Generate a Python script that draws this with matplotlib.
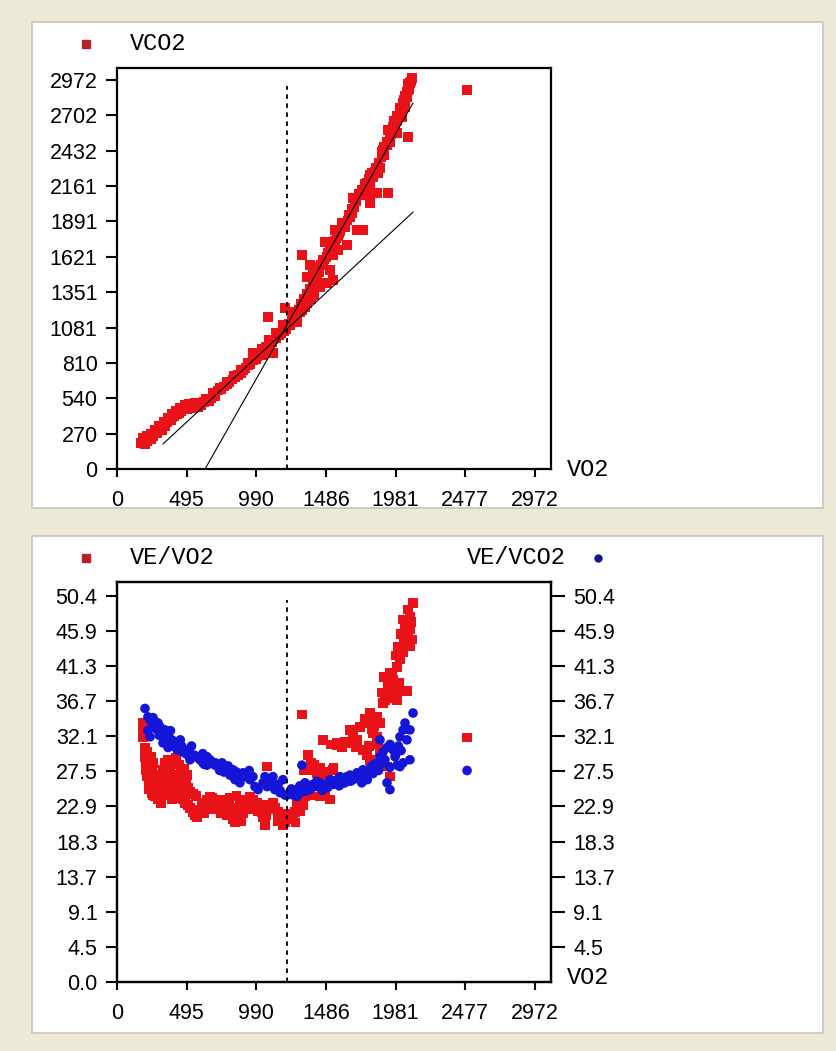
import matplotlib.pyplot as plt
from matplotlib.patches import Rectangle
from matplotlib.lines import Line2D
import numpy as np

# ---- data ----
# top panel: VCO2 against VO2
vo2_top = [170, 185, 200, 200, 215, 230, 240, 250, 260, 275, 285, 300, 310, 320, 335, 345,
           360, 370, 385, 395, 410, 425, 440, 455, 470, 485, 500, 520, 540, 560, 580, 600,
           620, 640, 655, 670, 690, 700, 720, 740, 760, 780, 800, 820, 840, 860, 880, 900,
           915, 930, 950, 970, 990, 1000, 1020, 1040, 1050, 1060, 1080, 1100, 1110, 1130,
           1150, 1170, 1190, 1200,
           180, 210, 240, 270, 300, 330, 360, 390, 420, 450, 480, 510, 550, 590, 630, 680,
           730, 780, 830, 880, 930, 980, 1030, 1080, 1130, 1180,
           967, 1038, 1109, 1074, 1194, 1252, 1280, 1230, 1250, 1209,
           1220, 1240, 1260, 1266, 1280, 1300, 1320, 1337, 1351, 1372, 1351, 1394, 1315,
           1372, 1358, 1380, 1400, 1420, 1443, 1465, 1479, 1493, 1514, 1536, 1536, 1550,
           1571, 1600, 1635, 1657, 1671, 1678, 1706, 1728, 1749, 1728, 1778, 1799, 1849,
           1927, 1778, 1799, 1834, 1799, 1820, 1870, 1856, 1891, 1920, 1941, 1927, 1962,
           1991, 2012, 2034, 2062, 2069, 2083, 2097, 2069, 1991, 2026, 2048,
           1420, 1440, 1460, 1500, 1520, 1560, 1580, 1620, 1640, 1690, 1700, 1760, 1880,
           1900, 1950, 1980, 2000, 2040, 2080, 2060, 2050, 2010, 1970, 1940,
           1260, 1290, 1310, 1330, 1350, 1370, 1390, 1400, 1410, 1430, 1450, 1470, 1490,
           1510, 1530, 1550, 1570, 1590, 1610, 1650, 1670, 1690, 1720, 1740, 1760, 1790,
           1810, 1840, 1860, 1880, 1900, 1920, 1950, 1970, 1990, 2010, 2030, 2050, 2070, 2090,
           2489]
vco2_top = [200, 215, 190, 230, 210, 240, 225, 260, 250, 285, 270, 300, 320, 295, 340, 325,
            355, 375, 370, 395, 405, 420, 430, 445, 455, 470, 460, 475, 465, 480, 470, 490,
            510, 530, 520, 540, 575, 560, 600, 610, 630, 650, 660, 685, 700, 720, 735, 755,
            770, 790, 800, 830, 840, 860, 880, 910, 895, 930, 950, 970, 990, 1000,
            1020, 1040, 1050, 1070,
            240, 255, 270, 300, 330, 360, 390, 420, 445, 470, 490, 500, 505, 500, 540, 580,
            620, 670, 710, 760, 810, 870, 920, 990, 1040, 1100,
            886, 871, 886, 1161, 1230, 1199, 1123, 1100, 1150, 1100,
            1110, 1130, 1150, 1123, 1180, 1200, 1215, 1240, 1268, 1345, 1467, 1543, 1635,
            1559, 1467, 1300, 1330, 1400, 1390, 1559, 1734, 1421, 1520, 1444, 1635, 1826,
            1673, 1879, 1711, 1925, 1956, 2070, 1826, 1826, 1826, 2093, 2093, 2032, 2109,
            2109, 2185, 2246, 2269, 2154, 2231, 2300, 2261, 2437, 2475, 2536, 2590, 2613,
            2666, 2743, 2796, 2842, 2896, 2949, 2987, 2536, 2567, 2689, 2765,
            1450, 1500, 1600, 1650, 1700, 1760, 1800, 1850, 1900, 2000, 2050, 2150, 2380,
            2400, 2560, 2640, 2700, 2820, 2900, 2880, 2780, 2720, 2620, 2500,
            1170, 1220, 1260, 1300, 1340, 1380, 1420, 1470, 1500, 1530, 1560, 1600, 1620,
            1660, 1700, 1740, 1780, 1820, 1860, 1940, 1990, 2040, 2100, 2130, 2180, 2220,
            2260, 2300, 2340, 2420, 2460, 2500, 2590, 2660, 2700, 2760, 2800, 2850, 2940, 2960,
            2896]

# two regression lines and the threshold
fit1_x = [327, 2105]
fit1_y = [191, 1963]
fit2_x = [626, 2105]
fit2_y = [0, 2796]
threshold_vo2 = 1209

# bottom panel: VE/VO2 and VE/VCO2 against VO2
vo2_eqo2 = [185, 185, 185, 199, 199, 199, 206, 213, 220, 206, 220, 228, 235, 240, 228, 245,
            256, 270, 292, 306, 260, 270, 285, 306, 327, 327, 341, 363, 377, 391, 341, 363,
            377, 391, 412, 427, 434, 448, 469, 483, 505, 519, 540, 555, 569, 590, 611, 626,
            640, 661, 683, 697, 718, 732, 747, 768, 789, 803, 818, 825, 839, 860, 874, 896,
            910, 931, 946, 960, 981, 995, 1017, 1031, 1038, 1052, 1067, 1074, 1088, 1109,
            1123, 1145, 1159, 1173, 1194, 1209, 1230, 1251, 1266, 1280, 1301, 1322, 1337,
            1351, 1372, 1315, 1351, 1372, 1394, 1422, 1443, 1465, 1330, 1480, 1514, 1443,
            1380, 1358, 1536, 1465, 1564, 1635, 1706, 1657, 1728, 1778, 1799, 1849, 1870,
            1820, 1849, 1749, 1778, 1799, 1870, 1600, 1520, 1920, 1941,
            1891, 1920, 1950, 2000, 2062,
            1905, 1941, 1991, 1927, 1962, 1941, 1991, 2012, 2034, 2083, 2097, 2083, 2062,
            2034, 2083, 2069, 2105,
            213, 241, 256, 227, 249, 270, 263, 284, 298, 277, 313, 320, 234, 213, 241, 255,
            300, 330, 350, 370, 395, 420, 440, 455, 470, 490, 505, 520, 540, 450, 430, 480,
            500, 400, 380, 560, 600, 620, 650, 680, 700, 740, 760, 780, 800, 850, 870, 880,
            900, 940, 970, 1000, 1060, 1100, 1140, 1180, 1200, 1240, 1270, 1300,
            1400, 1420, 1500, 1540, 1560, 1620, 1680, 1700, 1760, 1790, 1810, 1830, 1860,
            1880, 1900, 1960, 1980, 2000, 2020, 2040, 2050, 2070, 2090, 1990, 2010, 1910,
            2489]
eqo2 = [33.8, 32.5, 32.0, 30.6, 30.0, 29.4, 29.0, 28.6, 28.1, 27.7, 27.0, 26.4, 26.0, 25.5,
        25.1, 24.7, 24.4, 24.2, 23.8, 24.2, 24.7, 25.5, 26.4, 27.0, 27.7, 26.0, 25.1, 24.4,
        24.7, 23.8, 28.6, 29.0, 28.1, 27.0, 26.4, 25.5, 24.7, 24.2, 23.8, 23.4, 23.1, 22.7,
        22.2, 21.8, 21.5, 22.5, 22.9, 23.4, 23.8, 24.2, 23.4, 22.9, 22.5, 22.9, 23.4, 23.8,
        23.4, 22.7, 22.2, 21.2, 20.8, 22.5, 23.1, 23.4, 23.8, 23.4, 24.2, 22.5, 23.1, 23.4,
        23.1, 22.2, 21.5, 20.5, 28.1, 22.9, 23.1, 23.4, 22.7, 22.2, 21.8, 21.4, 20.8, 21.2,
        21.4, 21.2, 22.2, 23.1, 23.4, 23.1, 24.2, 24.7, 24.4, 34.9, 27.9, 27.7, 27.9, 27.7,
        27.9, 27.0, 27.7, 24.2, 23.8, 24.2, 28.6, 29.6, 27.7, 31.6, 31.2, 31.2, 31.6, 32.9,
        33.3, 33.8, 35.1, 34.6, 33.8, 32.5, 32.0, 30.3, 29.6, 29.0, 30.0, 30.6, 31.0, 28.1,
        26.8,
        36.4, 37.2, 37.0, 38.5, 38.0,
        36.8, 37.2, 36.8, 38.5, 39.4, 40.4, 41.1, 42.1, 43.0, 43.8, 44.7, 46.0, 46.9,
        47.3, 47.7, 48.6, 49.5,
        30.0, 29.4, 28.6, 29.0, 27.7, 27.0, 26.0, 25.5, 24.7, 24.2, 23.4, 25.8, 27.4, 26.8,
        25.9, 25.0, 26.2, 27.2, 28.0, 27.4, 26.6, 29.2, 28.4, 27.6, 26.8, 26.0, 25.4, 24.8,
        24.5, 25.8, 26.6, 27.8, 27.0, 24.0, 26.0, 24.3, 23.0, 22.0, 22.6, 24.0, 23.8, 22.0,
        22.4, 21.8, 24.0, 24.3, 22.0, 21.0, 22.0, 22.8, 23.8, 22.3, 21.8, 22.5, 21.0, 20.5,
        22.0, 21.8, 20.8, 22.3,
        28.4, 27.2, 27.4, 27.9, 30.9, 31.4, 32.2, 30.6, 34.3, 30.8, 33.0, 33.4, 31.0,
        37.8, 39.8, 40.0, 42.6, 43.8, 45.4, 44.2, 46.4, 45.2, 47.0, 38.0, 39.0, 37.5,
        31.9]

vo2_eqco2 = [199, 220, 235, 256, 270, 235, 256, 292, 306, 327, 341, 363, 327, 363, 391, 412,
             427, 448, 469, 483, 505, 540, 519, 569, 590, 611, 640, 661, 683, 697, 718, 747,
             768, 789, 803, 825, 839, 853, 874, 896, 924, 946, 967, 981, 1003, 1038, 1052,
             1067, 1088, 1109, 1123, 1145, 1180, 1159, 1194, 1209, 1230, 1251, 1280, 1301,
             1315, 1322, 1337, 1351, 1372, 1394, 1422, 1443, 1465, 1493, 1514, 1536, 1564,
             1586, 1614, 1635, 1657, 1678, 1706, 1728, 1749, 1778, 1799, 1820, 1849, 1870,
             1891, 1905, 1920, 1941, 1962, 1977, 1991, 2012, 1920, 1941, 2012, 2034, 2048,
             2062, 2083, 2105, 2034, 2083, 1870, 1891,
             250, 280, 310, 340, 370, 400, 430, 460, 490, 520, 550, 580, 610, 640, 670, 700,
             730, 760, 790, 820, 850, 880, 910, 940, 220, 300, 380, 450, 530, 620, 1070, 1100,
             1130, 1160, 1240, 1270, 1300, 1340, 1380, 1420, 1460, 1500, 1540, 1580, 1620,
             1660, 1700, 1740, 1780, 1820, 1860, 1900, 1940, 1980, 2000, 2020, 2060,
             2489]
eqco2 = [35.7, 34.6, 34.2, 34.5, 34.0, 32.0, 33.3, 33.8, 33.3, 32.5, 32.9, 32.0, 31.2, 30.6,
         31.6, 31.2, 30.3, 30.6, 30.0, 30.3, 29.6, 29.4, 29.0, 29.4, 29.0, 28.6, 28.3, 29.0,
         28.6, 28.3, 28.1, 28.6, 28.1, 27.7, 27.0, 27.7, 26.4, 26.8, 26.0, 27.3, 27.0, 26.4,
         26.8, 25.5, 25.1, 26.0, 26.8, 25.5, 26.4, 26.8, 25.1, 25.8, 26.4, 24.7, 24.4, 24.4,
         24.7, 24.4, 24.2, 24.7, 28.3, 25.1, 26.0, 25.5, 25.1, 25.8, 25.5, 26.0, 25.5, 25.8,
         26.4, 26.0, 26.4, 26.8, 26.0, 26.8, 27.0, 26.4, 27.3, 26.8, 27.7, 27.3, 27.9, 28.3,
         28.6, 29.4, 30.0, 29.0, 30.6, 31.0, 30.3, 29.4, 28.3, 28.1, 26.0, 25.1, 32.0, 32.9,
         33.8, 31.6, 32.9, 35.1, 28.6, 29.0, 31.6, 28.6,
         33.6, 33.0, 32.4, 31.8, 31.4, 30.8, 31.0, 30.8, 29.8, 29.8, 29.6, 29.2, 29.8, 29.4,
         28.8, 28.6, 27.6, 27.4, 28.2, 27.0, 27.4, 26.6, 26.8, 27.6, 32.8, 32.2, 32.8, 31.6,
         30.8, 28.4, 26.2, 25.6, 25.4, 25.0, 25.2, 25.0, 25.6, 24.9, 25.4, 26.2, 25.0, 25.4,
         25.8, 25.6, 26.0, 26.2, 26.6, 26.0, 26.4, 27.2, 27.6, 28.8, 28.0, 29.6, 30.8, 30.2,
         33.0,
         27.6]

x_ticks = [0, 495, 990, 1486, 1981, 2477, 2972]
vco2_ticks = [0, 270, 540, 810, 1081, 1351, 1621, 1891, 2161, 2432, 2702, 2972]
eq_ticks = ['0.0', '4.5', '9.1', '13.7', '18.3', '22.9', '27.5', '32.1', '36.7', '41.3', '45.9', '50.4']

# ---- layout (pixel geometry of the reference) ----
W, H = 837, 1051
def fx(x):
    return x / W
def fy(y):
    return 1 - y / H

bg = '#ece9d8'
red = '#ea1219'
blue = '#1515d8'
tick_font = ['Liberation Sans Narrow', 'Liberation Sans', 'DejaVu Sans']
tick_size = 15.5
label_font = 'Liberation Mono'
msize = 48

fig = plt.figure(figsize=(W / 100, H / 100), dpi=100, facecolor=bg)

# white panels (behind the axes)
for top, bot in [(22, 508), (536, 1033)]:
    fig.add_artist(Rectangle((fx(32), fy(bot)), fx(823) - fx(32), fy(top) - fy(bot),
                             transform=fig.transFigure, facecolor='white',
                             edgecolor='#c9c6b6', linewidth=1.2, zorder=-10))


def style_axes(ax, ymax):
    ax.set_xlim(0, 3086)
    ax.set_ylim(0, ymax)
    ax.set_facecolor('white')
    for s in ax.spines.values():
        s.set_linewidth(1.6)
        s.set_color('black')
    ax.set_xticks(x_ticks)
    ax.set_xticklabels([str(t) for t in x_ticks], fontfamily=tick_font, fontsize=tick_size)
    ax.tick_params(axis='x', direction='out', length=6, width=1.5, pad=9)
    ax.tick_params(axis='y', direction='out', length=8, width=1.5, pad=6)


# ---- top panel ----
ax1 = fig.add_axes([fx(117), fy(469), fx(551) - fx(117), fy(68) - fy(469)])
style_axes(ax1, 3064)
ax1.set_yticks(vco2_ticks[:1] + [2972 / 11 * i for i in range(1, 12)])
ax1.set_yticklabels([str(t) for t in vco2_ticks], fontfamily=tick_font, fontsize=tick_size)
ax1.scatter(vo2_top, vco2_top, marker='s', s=msize, color=red, edgecolors='none', zorder=2)
ax1.plot(fit1_x, fit1_y, color='black', linewidth=0.8, zorder=3)
ax1.plot(fit2_x, fit2_y, color='black', linewidth=0.8, zorder=3)
ax1.plot([threshold_vo2, threshold_vo2], [0, 2930], color='black', linewidth=1.3,
         linestyle=(0, (2.5, 2.5)), zorder=3)

fig.add_artist(Line2D([fx(86)], [fy(44)], marker='s', markersize=6, color='#b8202c',
                      linestyle='none', transform=fig.transFigure))
fig.text(fx(130), fy(44), 'VCO2', fontfamily=label_font, fontsize=17, va='center', ha='left')
fig.text(fx(567), fy(470), 'VO2', fontfamily=label_font, fontsize=17, va='center', ha='left')

# ---- bottom panel ----
eq_pos = [50.4 / 11 * i for i in range(12)]
ax2 = fig.add_axes([fx(117), fy(982), fx(551) - fx(117), fy(582) - fy(982)])
style_axes(ax2, 52.2)
ax2.set_yticks(eq_pos)
ax2.set_yticklabels(eq_ticks, fontfamily=tick_font, fontsize=tick_size)
ax2r = ax2.twinx()
ax2r.set_ylim(0, 52.2)
ax2r.set_yticks(eq_pos[1:])
ax2r.set_yticklabels(eq_ticks[1:], fontfamily=tick_font, fontsize=tick_size)
ax2r.tick_params(axis='y', direction='out', length=10, width=1.5, pad=6)
for s in ax2r.spines.values():
    s.set_linewidth(1.6)

ax2.scatter(vo2_eqo2, eqo2, marker='s', s=msize, color=red, edgecolors='none', zorder=2)
ax2.scatter(vo2_eqco2, eqco2, marker='o', s=msize, color=blue, edgecolors='none', zorder=2)
ax2.plot([threshold_vo2, threshold_vo2], [0, 49.9], color='black', linewidth=1.3,
         linestyle=(0, (2.5, 2.5)), zorder=3)

fig.add_artist(Line2D([fx(86)], [fy(558)], marker='s', markersize=6, color='#b8202c',
                      linestyle='none', transform=fig.transFigure))
fig.text(fx(130), fy(558), 'VE/VO2', fontfamily=label_font, fontsize=17, va='center', ha='left')
fig.text(fx(566), fy(558), 'VE/VCO2', fontfamily=label_font, fontsize=17, va='center', ha='right')
fig.add_artist(Line2D([fx(598)], [fy(558)], marker='o', markersize=5, color='#14148a',
                      linestyle='none', transform=fig.transFigure))
fig.text(fx(567), fy(977), 'VO2', fontfamily=label_font, fontsize=17, va='center', ha='left')

fig.savefig('out.png', dpi=100, facecolor=bg)
